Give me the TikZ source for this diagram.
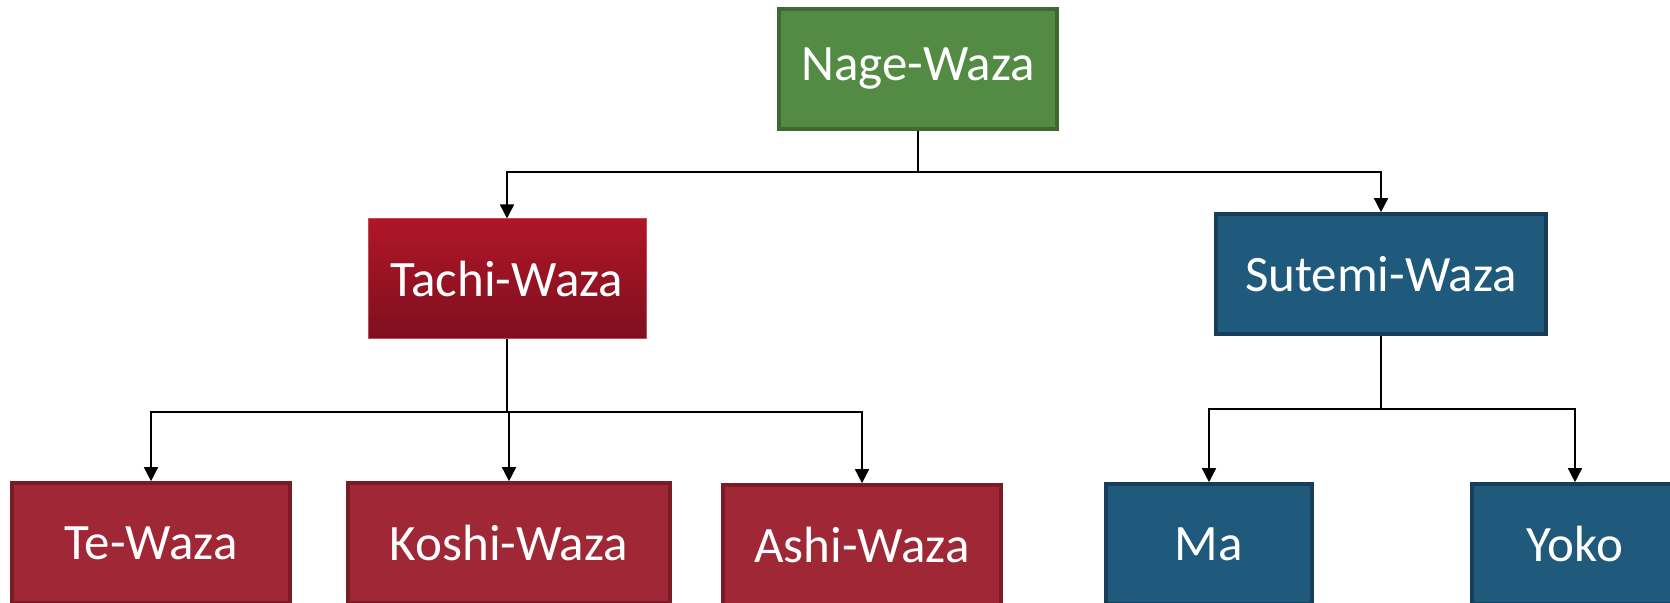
\documentclass[tikz,border=0pt]{standalone}
\usepackage{fontspec}
\setmainfont{Carlito}
\usetikzlibrary{positioning}
\usetikzlibrary{arrows.meta}
\definecolor{nagefill}{HTML}{548B44}
\definecolor{nageline}{HTML}{3E6A31}
\definecolor{tachitop}{HTML}{B01628}
\definecolor{tachibot}{HTML}{7E0F1E}
\definecolor{tachiline}{HTML}{C24A58}
\definecolor{redfill}{HTML}{A02735}
\definecolor{redline}{HTML}{7A1B26}
\definecolor{bluefill}{HTML}{1F5A7C}
\definecolor{blueline}{HTML}{163E59}

\begin{document}
\begin{tikzpicture}[x=0.5pt,y=-0.5pt,
    box/.style={draw, rectangle, text=white, inner sep=0pt, minimum height=60pt,
        line width=1.8pt, font=\fontsize{25.5}{30}\selectfont},
    link/.style={-{Triangle[width=7pt,length=7pt]}, line width=0.75pt}]
            \useasboundingbox (0,0) rectangle (1670,603);
            \node[box, fill=nagefill, draw=nageline, minimum width=139pt] (nage) at (918,69) {Nage-Waza};
            \node[box, top color=tachitop, bottom color=tachibot, draw=tachiline, line width=0.5pt, minimum width=139pt] (tachi) at (507,279) {Tachi-Waza};
            \node[box, fill=bluefill, draw=blueline, minimum width=165pt] (sutemi) at (1381,274) {Sutemi-Waza};
            
            \node[box, fill=redfill, draw=redline, minimum width=139pt] (te) at (151,543) {Te-Waza};
            \node[box, fill=redfill, draw=redline, minimum width=161pt] (koshi) at (509,543) {Koshi-Waza};
            \node[box, fill=redfill, draw=redline, minimum width=139pt] (ashi) at (862,545) {Ashi-Waza};
            \node[box, fill=bluefill, draw=blueline, minimum width=103pt] (ma) at (1209,544) {Ma};
            \node[box, fill=bluefill, draw=blueline, minimum width=103pt] (yoko) at (1575,544) {Yoko};
            
            \coordinate (nagesplit) at (0,172);
            \coordinate (tachisplit) at (0,412);
            \coordinate (sutemisplit) at (0,409);
            
            \draw[link] (nage.south) -- (nage.south |- nagesplit) -| (tachi.north);
            \draw[link] (nage.south) -- (nage.south |- nagesplit) -| (sutemi.north);
            
            \draw[link] (tachi.south) -- (tachi.south |- tachisplit) -| (te.north);
            \draw[link] (tachi.south) -- (tachi.south |- tachisplit) -| (koshi.north);
            \draw[link] (tachi.south) -- (tachi.south |- tachisplit) -| (ashi.north);
            
            \draw[link] (sutemi.south) -- (sutemi.south |- sutemisplit) -| (ma.north);
            \draw[link] (sutemi.south) -- (sutemi.south |- sutemisplit) -| (yoko.north);
        \end{tikzpicture}
\end{document}
